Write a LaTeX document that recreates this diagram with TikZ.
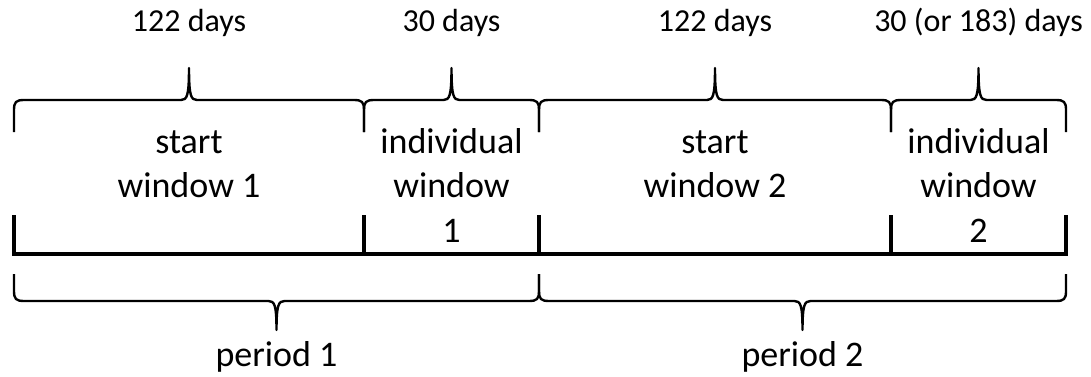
\documentclass[tikz,border=0pt]{standalone}
\usepackage{fontspec}
\setmainfont{Carlito}
\usetikzlibrary{calc}
\tikzset{
  timeline/.style={line width=3.3pt, line cap=rect},
  bracepath/.style={line width=2.4pt, line join=round},
  toplabel/.style={anchor=base, inner sep=0pt, font=\fontsize{32}{38}\selectfont},
  inlabel/.style={anchor=base, inner sep=0pt, font=\fontsize{36}{44}\selectfont},
}
% #1 left x, #2 right x, #3 end y, #4 flat y, #5 tip y, #6 direction (+1 ends below flat, -1 ends above)
\newcommand{\tlbrace}[6]{%
  \draw[bracepath] ({#1},{#3}) -- ({#1},{#4+#6*10})
    .. controls ({#1},{#4+#6*2}) and ({#1+2},{#4}) .. ({#1+10},{#4})
    -- ({(#1+#2)/2-8},{#4})
    .. controls ({(#1+#2)/2-2},{#4}) and ({(#1+#2)/2},{#4-#6*4}) .. ({(#1+#2)/2},{#5})
    .. controls ({(#1+#2)/2},{#4-#6*4}) and ({(#1+#2)/2+2},{#4}) .. ({(#1+#2)/2+8},{#4})
    -- ({#2-10},{#4})
    .. controls ({#2-2},{#4}) and ({#2},{#4+#6*2}) .. ({#2},{#4+#6*10})
    -- ({#2},{#3});}
\begin{document}
\begin{tikzpicture}[x=1pt,y=-1pt]
\useasboundingbox (0,0) rectangle (1091,377);
% tick coordinates
\coordinate (t0) at (14,254);
\coordinate (t1) at (364,254);
\coordinate (t2) at (539,254);
\coordinate (t3) at (891,254);
\coordinate (t4) at (1066,254);
\coordinate (u0) at (14,217);
\coordinate (u1) at (364,217);
\coordinate (u2) at (539,217);
\coordinate (u3) at (891,217);
\coordinate (u4) at (1066,217);
% timeline
\draw[timeline] (u0) -- (t0) -- (t4) -- (u4);
\draw[timeline] (t1) -- (u1);
\draw[timeline] (t2) -- (u2);
\draw[timeline] (t3) -- (u3);
% top braces
\tlbrace{14}{364}{132}{100}{68}{1}
\tlbrace{364}{539}{132}{100}{68}{1}
\tlbrace{539}{891}{132}{100}{68}{1}
\tlbrace{891}{1066}{132}{100}{68}{1}
% bottom braces
\tlbrace{14}{539}{274}{301}{330}{-1}
\tlbrace{539}{1066}{274}{301}{330}{-1}
% top labels
\node[toplabel] (d1) at (189,32) {122 days};
\node[toplabel] (d2) at (451.5,32) {30 days};
\node[toplabel] (d3) at (715,32) {122 days};
\node[toplabel] (d4) at (978.5,32) {30 (or 183) days};
% inner labels
\node[inlabel] (s1a) at (189,153) {start};
\node[inlabel] (s1b) at (189,197) {window 1};
\node[inlabel] (i1a) at (451.5,153) {individual};
\node[inlabel] (i1b) at (451.5,197) {window};
\node[inlabel] (i1c) at (451.5,242) {1};
\node[inlabel] (s2a) at (715,153) {start};
\node[inlabel] (s2b) at (715,197) {window 2};
\node[inlabel] (i2a) at (978.5,153) {individual};
\node[inlabel] (i2b) at (978.5,197) {window};
\node[inlabel] (i2c) at (978.5,242) {2};
% period labels
\node[inlabel] (p1) at (276.5,366) {period 1};
\node[inlabel] (p2) at (802.5,366) {period 2};
\end{tikzpicture}
\end{document}
